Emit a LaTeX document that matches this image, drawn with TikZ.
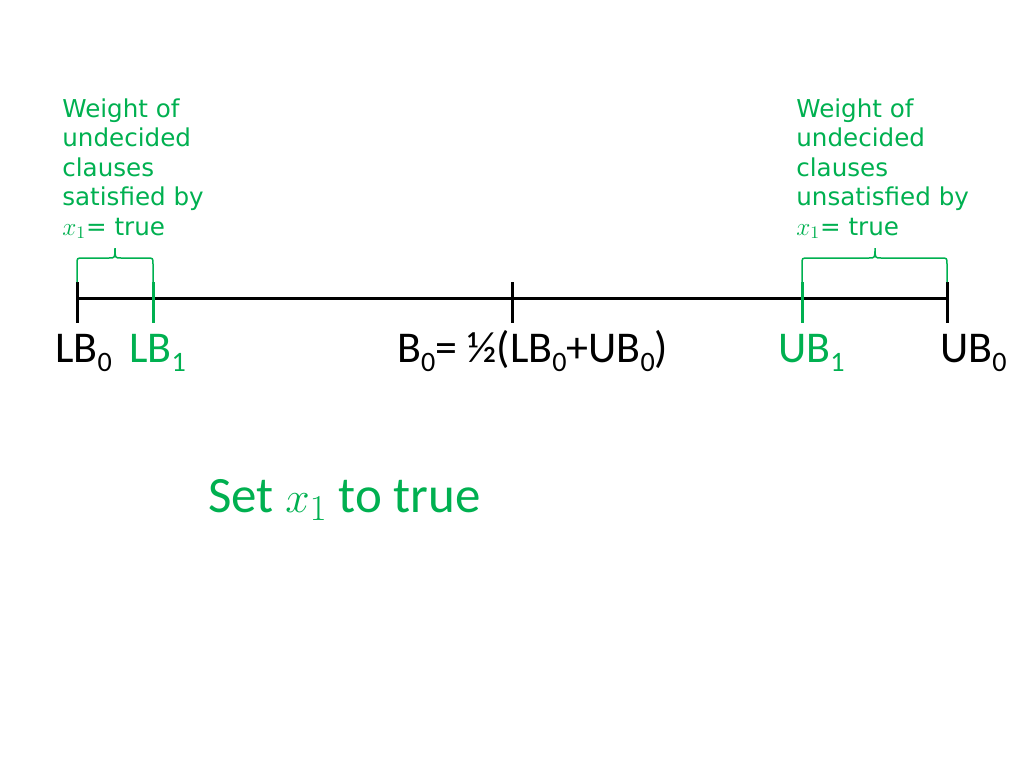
\documentclass[tikz,border=0pt]{standalone}
\usepackage{fontspec}
\setmainfont{Carlito}
\newfontfamily\notefont{DejaVu Sans}
\definecolor{slgreen}{RGB}{0,176,80}
\newcommand\lowsub[1]{\raisebox{-5.5pt}{\fontsize{16}{16}\selectfont #1}}
\tikzset{
  axisline/.style={line width=0.6mm},
  bracket/.style={slgreen, line width=0.3mm},
  lab/.style={inner sep=0pt, anchor=base west, font=\fontsize{25}{30}\selectfont},
  note/.style={inner sep=0pt, anchor=north west, align=left, text=slgreen,
    font=\notefont\fontsize{14}{16.8}\selectfont}
}
\begin{document}
\begin{tikzpicture}[x=0.02cm,y=-0.02cm]
\useasboundingbox (0,0) rectangle (1024,768);

%points on the line
\coordinate (lb0) at (77,298);
\coordinate (lb1) at (153,298);
\coordinate (b0) at (512,298);
\coordinate (ub1) at (802,298);
\coordinate (ub0) at (947,298);

%line and ticks
\draw[axisline] (lb0) -- (ub0);
\foreach \p in {lb0,b0,ub0}
  \draw[axisline] (\p) ++(0,-16) -- ++(0,41);
\foreach \p in {lb1,ub1}
  \draw[axisline, slgreen] (\p) ++(0,-16) -- ++(0,41);

%labels
\node[lab] (lb0lab) at (55,362) {LB\lowsub{0}};
\node[lab, text=slgreen] (lb1lab) at (129,362) {LB\lowsub{1}};
\node[lab] (b0lab) at (397,362) {B\lowsub{0}= ½(LB\lowsub{0}+UB\lowsub{0})};
\node[lab, text=slgreen] (ub1lab) at (778,362) {UB\lowsub{1}};
\node[lab] (ub0lab) at (940,362) {UB\lowsub{0}};

%braces
\draw[bracket] (77,282) -- (77,264) .. controls (77,258) .. (83,258) -- (109,258)
  .. controls (115,258) .. (115,248) .. controls (115,258) .. (121,258) -- (147,258)
  .. controls (153,258) .. (153,264) -- (153,282);
\draw[bracket] (802,282) -- (802,264) .. controls (802,258) .. (808,258) -- (869,258)
  .. controls (875,258) .. (875,248) .. controls (875,258) .. (881,258) -- (941,258)
  .. controls (947,258) .. (947,264) -- (947,282);

%notes
\node[note] (leftnote) at (62,98) {Weight of\\undecided\\clauses\\satisfied by\\$x_1$= true};
\node[note] (rightnote) at (796,98) {Weight of\\undecided\\clauses\\unsatisfied by\\$x_1$= true};

\node[lab, text=slgreen, font=\fontsize{29}{33}\selectfont] (setlab) at (208,512) {Set $x_1$ to true};

\end{tikzpicture}
\end{document}
